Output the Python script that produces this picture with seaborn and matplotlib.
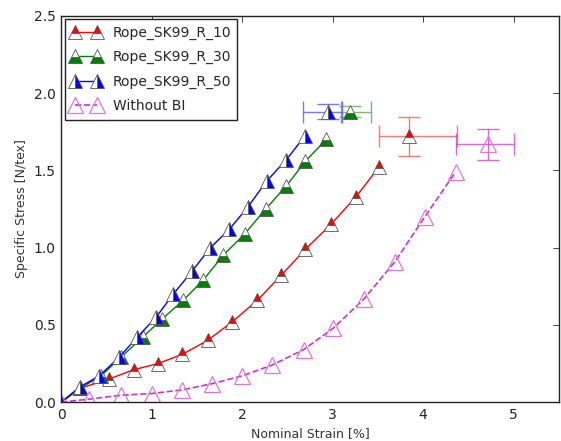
import matplotlib
matplotlib.use("Agg")
import matplotlib.pyplot as plt
import seaborn as sns
import numpy as np

# data
r10_x = [0.0, 0.21, 0.53, 0.80, 1.07, 1.34, 1.62, 1.89, 2.17, 2.43, 2.70, 2.98, 3.26, 3.51]
r10_y = [0.0, 0.09, 0.15, 0.21, 0.25, 0.31, 0.40, 0.52, 0.66, 0.82, 0.99, 1.15, 1.33, 1.52]
r30_x = [0.0, 0.21, 0.44, 0.66, 0.90, 1.12, 1.35, 1.57, 1.79, 2.03, 2.26, 2.49, 2.70, 2.93]
r30_y = [0.0, 0.09, 0.17, 0.29, 0.42, 0.54, 0.66, 0.79, 0.95, 1.09, 1.25, 1.40, 1.56, 1.70]
r50_x = [0.0, 0.21, 0.42, 0.64, 0.84, 1.05, 1.24, 1.45, 1.65, 1.86, 2.06, 2.27, 2.49, 2.69]
r50_y = [0.0, 0.10, 0.17, 0.29, 0.42, 0.55, 0.70, 0.85, 1.00, 1.12, 1.26, 1.43, 1.57, 1.72]
nobl_x = [0.0, 0.31, 0.66, 1.00, 1.34, 1.67, 2.00, 2.33, 2.68, 3.01, 3.35, 3.69, 4.02, 4.36]
nobl_y = [0.0, 0.02, 0.045, 0.056, 0.08, 0.12, 0.17, 0.24, 0.34, 0.48, 0.67, 0.91, 1.20, 1.49]

# failure points with errors: x, y, xerr_low, xerr_high, yerr
fail_labels = ["Rope_SK99_R_10", "Rope_SK99_R_30", "Rope_SK99_R_50", "Without BI"]
fail_x = [3.85, 3.19, 2.955, 4.72]
fail_y = [1.72, 1.88, 1.88, 1.67]
fail_xlo = [0.34, 0.10, 0.28, 0.36]
fail_xhi = [0.52, 0.23, 0.15, 0.29]
fail_yerr = [0.125, 0.035, 0.05, 0.10]

labels = ["Rope_SK99_R_10", "Rope_SK99_R_30", "Rope_SK99_R_50", "Without BI"]

sns.set_style("white")
plt.rcParams.update({
    "font.family": ["DejaVu Sans"],
    "xtick.direction": "in", "ytick.direction": "in",
    "xtick.top": True, "ytick.right": True,
    "xtick.major.size": 4, "ytick.major.size": 4,
    "xtick.major.width": 0.6, "ytick.major.width": 0.6,
    "axes.edgecolor": "#222222", "axes.linewidth": 1.0,
})

fig = plt.figure(figsize=(5.61, 4.41), dpi=100)
ax = fig.add_axes([0.109, 0.088, 0.887, 0.876])

mec = "#555555"
specs = [
    (r10_x, r10_y, "red", "top", "-"),
    (r30_x, r30_y, "green", "bottom", "-"),
    (r50_x, r50_y, "blue", "right", "-"),
]
for (xs, ys, c, fs, ls), lab in zip(specs, labels[:3]):
    sns.lineplot(x=xs, y=ys, ax=ax, color=c, lw=1.0, marker="^", markersize=10,
                 fillstyle=fs, markerfacecolor=c, markerfacecoloralt="white",
                 markeredgecolor=mec, markeredgewidth=0.6, sort=False,
                 estimator=None, label=lab, linestyle=ls)

mag_line = "#cc33cc"
mag_mk = "#dd77dd"
sns.lineplot(x=nobl_x, y=nobl_y, ax=ax, color=mag_line, lw=1.2, linestyle="--",
             marker="^", markersize=11, markerfacecolor="none",
             markeredgecolor=mag_mk, markeredgewidth=0.9, sort=False,
             estimator=None, label=labels[3], dashes=(4, 3))

ecolors = ["#ff5555", "#55aa55", "#5555ff", "#cc44cc"]
mcols = ["red", "green", "blue", None]
fss = ["top", "bottom", "right", "none"]
for i in range(4):
    ax.errorbar([fail_x[i]], [fail_y[i]],
                xerr=[[fail_xlo[i]], [fail_xhi[i]]], yerr=[[fail_yerr[i]], [fail_yerr[i]]],
                fmt="none", ecolor=ecolors[i], elinewidth=1.0, capsize=8, capthick=1.0,
                alpha=0.8, zorder=3)
    if i < 3:
        ax.plot([fail_x[i]], [fail_y[i]], marker="^", markersize=10, fillstyle=fss[i],
                markerfacecolor=mcols[i], markerfacecoloralt="white",
                markeredgecolor=mec, markeredgewidth=0.6, linestyle="none", zorder=4)
    else:
        ax.plot([fail_x[i]], [fail_y[i]], marker="^", markersize=11,
                markerfacecolor="none", markeredgecolor=mag_mk,
                markeredgewidth=0.9, linestyle="none", zorder=4)

ax.set_xlim(0, 5.5)
ax.set_ylim(0, 2.5)
ax.set_xticks([0, 1, 2, 3, 4, 5])
ax.set_xticklabels(["0", "1", "2", "3", "4", "5"])
ax.set_yticks([0, 0.5, 1.0, 1.5, 2.0, 2.5])
ax.set_yticklabels(["0.0", "0.5", "1.0", "1.5", "2.0", "2.5"])
ax.tick_params(labelsize=10, colors="#222222", pad=4)
ax.set_xlabel("Nominal Strain [%]", fontsize=9, color="#333333")
ax.set_ylabel("Specific Stress [N/tex]", fontsize=9, color="#333333")

leg = ax.legend(loc="upper left", numpoints=2, fontsize=10, fancybox=False,
                frameon=True, edgecolor="#222222", framealpha=1, borderpad=0.45,
                handlelength=2.2, labelspacing=0.75, borderaxespad=0.25,
                handletextpad=0.8)
leg.get_frame().set_linewidth(1.0)

fig.savefig("out.png", dpi=100)
